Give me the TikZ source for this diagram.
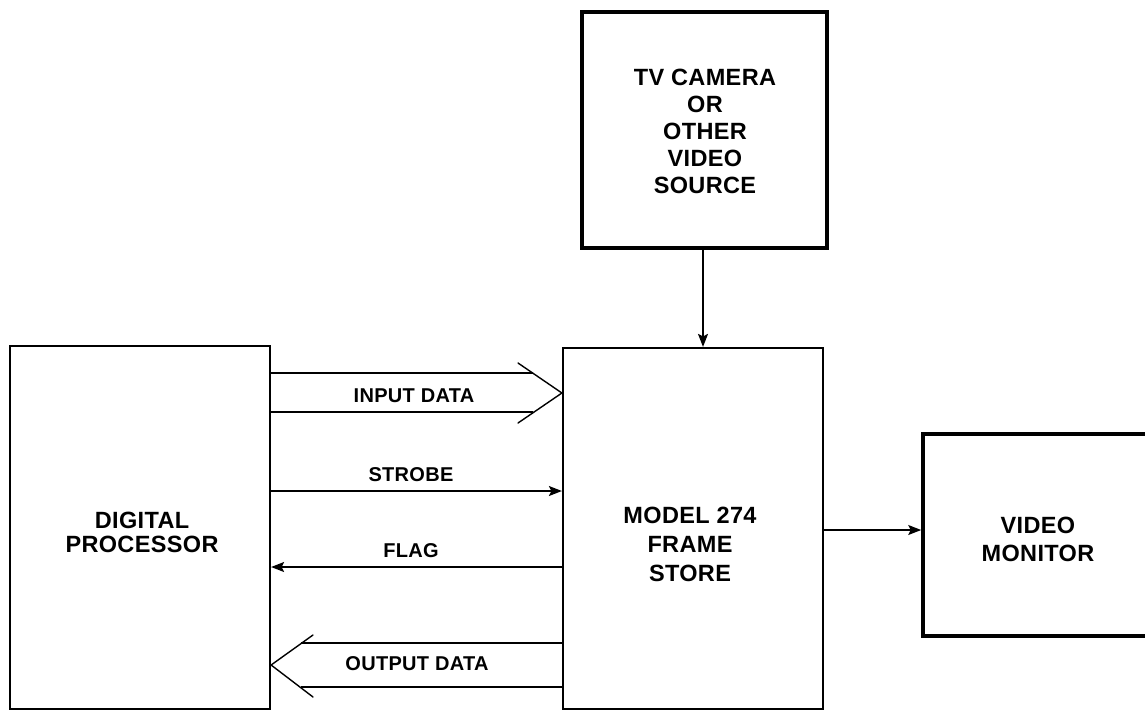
\documentclass[tikz,border=0pt]{standalone}
\usepackage{fontspec}
\setmainfont{Liberation Sans}[LetterSpace=1.5]
\usetikzlibrary{arrows.meta}
\begin{document}
\begin{tikzpicture}[x=1pt,y=-1pt,
  thinbox/.style={draw, line width=2.2pt, rectangle, inner sep=0pt},
  thickbox/.style={draw, line width=3.6pt, rectangle, inner sep=0pt},
  boxtext/.style={font=\bfseries\fontsize{23.5}{#1}\selectfont, align=center, inner sep=0pt},
  lbl/.style={font=\bfseries\fontsize{20}{22}\selectfont, inner sep=0pt},
  conn/.style={line width=1.4pt},
  arr/.style={conn, -{Stealth[length=13pt,width=10pt,inset=2.5pt]}},
  chev/.style={line width=1.4pt, line cap=round}]
\useasboundingbox (0,0) rectangle (1145,713);
% boxes
\node[thinbox, minimum width=260pt, minimum height=363pt] (dp) at (140,527.5) {};
\node[thinbox, minimum width=260pt, minimum height=361pt] (fs) at (693,528.5) {};
\node[thickbox, minimum width=245pt, minimum height=236pt] (tv) at (704.5,130) {};
\node[thickbox, minimum width=227pt, minimum height=202pt] (vm) at (1036.5,535) {};
% box texts
\node[boxtext=24] (dpt) at (142,532) {DIGITAL\\PROCESSOR};
\node[boxtext=29] (fst) at (690,544.5) {MODEL 274\\FRAME\\STORE};
\node[boxtext=27] (tvt) at (705,131.5) {TV CAMERA\\OR\\OTHER\\VIDEO\\SOURCE};
\node[boxtext=28] (vmt) at (1038,539) {VIDEO\\MONITOR};
% simple arrows
\draw[arr] (tv.south -| 703,0) -- (fs.north -| 703,0);
\draw[arr] (dp.east |- 0,491) -- (fs.west |- 0,491);
\draw[arr] (fs.west |- 0,567) -- (dp.east |- 0,567);
\draw[arr] (fs.east |- 0,530) -- (vm.west |- 0,530);
% input data wide arrow
\coordinate (inTip) at (fs.west |- 0,393);
\coordinate (inA) at (518,363);
\coordinate (inB) at (518,423);
\draw[conn] (dp.east |- 0,373) -- (533,373);
\draw[conn] (dp.east |- 0,412) -- (533,412);
\draw[chev] (inA) -- (inTip) -- (inB);
% output data wide arrow
\coordinate (outTip) at (dp.east |- 0,665);
\coordinate (outA) at (313,635);
\coordinate (outB) at (313,697);
\draw[conn] (fs.west |- 0,643) -- (301,643);
\draw[conn] (fs.west |- 0,687) -- (301,687);
\draw[chev] (outA) -- (outTip) -- (outB);
% labels
\node[lbl] (lin) at (414,395.5) {INPUT DATA};
\node[lbl] (lst) at (411,475) {STROBE};
\node[lbl] (lfl) at (411,551) {FLAG};
\node[lbl] (lout) at (417,664) {OUTPUT DATA};
\end{tikzpicture}
\end{document}
